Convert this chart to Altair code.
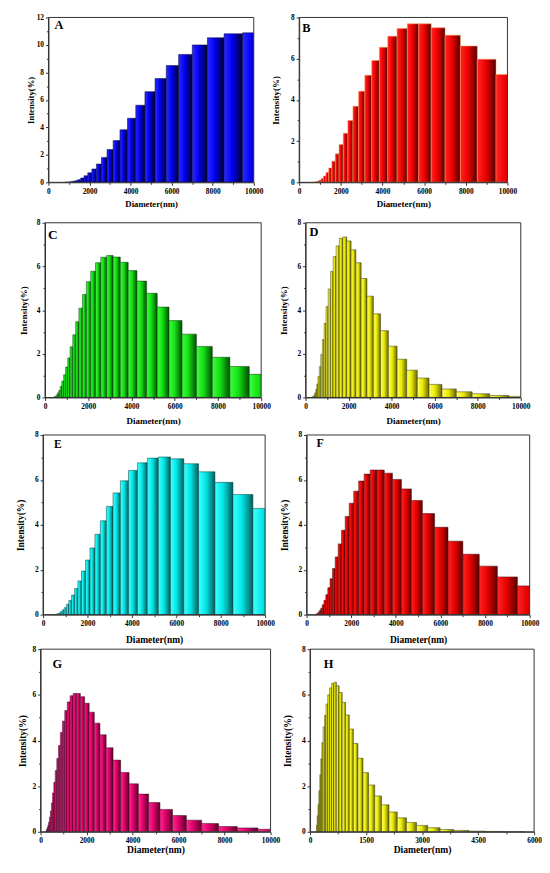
import altair as alt
import pandas as pd

# Log-spaced size classes (bin edges, nm)
EDGES = [106, 117, 129, 143, 158, 174, 192, 213, 235, 260, 287, 317, 350, 387,
         428, 473, 522, 577, 638, 705, 779, 861, 951, 1051, 1161, 1283, 1418,
         1567, 1731, 1913, 2114, 2336, 2581, 2852, 3151, 3482, 3848, 4252, 4698,
         5191, 5737, 6339, 7004, 7740, 8552, 9450, 10442]

# intensity values (%), ascending bins starting at index START_x of EDGES
START_A = 20
VALS_A = [0.005, 0.01, 0.02, 0.04, 0.07, 0.12, 0.19, 0.31, 0.48, 0.69, 0.97, 1.33, 1.81,
          2.38, 3.04, 3.82, 4.66, 5.61, 6.60, 7.55, 8.50, 9.31, 10.0, 10.52, 10.81, 10.88]
START_B = 18
VALS_B = [0.005, 0.015, 0.03, 0.06, 0.11, 0.19, 0.31, 0.47, 0.70, 1.02, 1.38, 1.83, 2.38,
          3.0, 3.69, 4.42, 5.19, 5.91, 6.55, 7.09, 7.47, 7.69, 7.69, 7.5, 7.14, 6.61, 5.97, 5.23]
START_C = 13
VALS_C = [0.01, 0.03, 0.06, 0.12, 0.21, 0.33, 0.51, 0.75, 1.04, 1.39, 1.81, 2.32, 2.87,
          3.47, 4.09, 4.72, 5.30, 5.78, 6.17, 6.42, 6.50, 6.43, 6.19, 5.81, 5.33, 4.77,
          4.14, 3.52, 2.90, 2.34, 1.84, 1.42, 1.06]
START_D = 10
VALS_D = [0.01, 0.03, 0.06, 0.12, 0.21, 0.38, 0.62, 0.96, 1.42, 1.97, 2.65, 3.39, 4.16,
          4.97, 5.77, 6.45, 6.94, 7.29, 7.35, 7.17, 6.76, 6.17, 5.45, 4.64, 3.83, 3.06,
          2.35, 1.75, 1.25, 0.89, 0.6, 0.39, 0.26, 0.17, 0.09, 0.05]
START_E = 16
VALS_E = [0.01, 0.02, 0.04, 0.07, 0.13, 0.21, 0.31, 0.46, 0.63, 0.87, 1.16, 1.50, 1.94,
          2.43, 2.97, 3.58, 4.18, 4.82, 5.42, 5.96, 6.42, 6.76, 6.97, 7.02, 6.94, 6.72,
          6.36, 5.89, 5.35, 4.73]
START_F = 13
VALS_F = [0.01, 0.03, 0.06, 0.12, 0.19, 0.29, 0.44, 0.64, 0.89, 1.20, 1.60, 2.05, 2.57,
          3.15, 3.76, 4.37, 4.96, 5.50, 5.95, 6.26, 6.44, 6.44, 6.30, 6.02, 5.60, 5.08,
          4.50, 3.89, 3.27, 2.69, 2.16, 1.68, 1.28]
START_G = 8
VALS_G = [0.05, 0.10, 0.19, 0.29, 0.43, 0.64, 0.91, 1.27, 1.70, 2.17, 2.68, 3.21, 3.78,
          4.35, 4.85, 5.31, 5.69, 5.96, 6.06, 6.06, 5.92, 5.63, 5.24, 4.76, 4.25, 3.68,
          3.14, 2.60, 2.10, 1.65, 1.28, 0.98, 0.71, 0.51, 0.36, 0.23, 0.17, 0.11]
START_H = 5
VALS_H = [0.3, 0.7, 1.2, 1.8, 2.5, 3.2, 3.9, 4.6, 5.1, 5.6, 6.0, 6.3, 6.5, 6.55, 6.4, 6.1,
          5.67, 5.12, 4.5, 3.87, 3.22, 2.59, 2.05, 1.57, 1.18, 0.87, 0.61, 0.41, 0.28,
          0.18, 0.1, 0.06, 0.03, 0.015, 0.005]

X_TICKS_10K = [0, 1000, 2000, 3000, 4000, 5000, 6000, 7000, 8000, 9000, 10000]
X_TICKS_6K = [0, 750, 1500, 2250, 3000, 3750, 4500, 5250, 6000]
Y_TICKS_8 = [0, 1, 2, 3, 4, 5, 6, 7, 8]
Y_TICKS_12 = [0, 1, 2, 3, 4, 5, 6, 7, 8, 9, 10, 11, 12]

FONT = "Liberation Serif"
AX = "#333333"


def grad(c0, c1, c2):
    return {"gradient": "linear", "x1": 0, "x2": 1, "y1": 0, "y2": 0,
            "stops": [{"offset": 0, "color": c0}, {"offset": 0.45, "color": c1},
                      {"offset": 1, "color": c2}]}


def panel(letter, start, vals, w, h, xmax, xticks, xmajor, ymax, yticks,
          fill, stroke, ytp, xtp, tfs, lx, ly, lfs, cell):
    # cell = (left, right, top, bottom) extents of the panel's cell around the plot
    L, R, T, B = cell
    n = len(vals)
    df = pd.DataFrame({"d0": EDGES[start:start + n],
                       "d1": EDGES[start + 1:start + 1 + n],
                       "v": vals})
    xaxis = alt.Axis(values=xticks, format="d",
                     labelExpr=f"datum.value % {xmajor} === 0 ? datum.label : ''",
                     tickSize={"condition": {"test": f"datum.value % {xmajor} === 0", "value": 3},
                               "value": 2},
                     title="Diameter(nm)", titlePadding=xtp, titleFontSize=tfs,
                     labelFlush=False, labelOverlap=False, grid=False)
    yaxis = alt.Axis(values=yticks, format="d",
                     labelExpr="datum.value % 2 === 0 ? datum.label : ''",
                     tickSize={"condition": {"test": "datum.value % 2 === 0", "value": 3},
                               "value": 2},
                     title="Intensity(%)", titlePadding=ytp, titleFontSize=tfs,
                     labelOverlap=False, grid=False)
    bars = alt.Chart(df).mark_rect(fill=fill, stroke=stroke, strokeWidth=0.5, clip=True).encode(
        x=alt.X("d0:Q", scale=alt.Scale(domain=[0, xmax], nice=False), axis=xaxis),
        x2="d1:Q",
        y=alt.Y("v:Q", scale=alt.Scale(domain=[0, ymax], nice=False), axis=yaxis),
        y2=alt.datum(0),
    )
    frame = alt.Chart(pd.DataFrame({"f": [0]})).mark_rect(
        fillOpacity=0, stroke=AX, strokeWidth=1
    ).encode(x=alt.value(0), x2=alt.value(w), y=alt.value(0), y2=alt.value(h))
    spacer = alt.Chart(pd.DataFrame({"f": [0]})).mark_rect(opacity=0).encode(
        x=alt.value(-L), x2=alt.value(w + R), y=alt.value(-T), y2=alt.value(B))
    lab = alt.Chart(pd.DataFrame({"t": [letter]})).mark_text(
        align="left", baseline="alphabetic", font=FONT, fontWeight="bold",
        fontSize=lfs, color="black"
    ).encode(text="t:N", x=alt.value(lx), y=alt.value(ly))
    return alt.layer(spacer, bars, frame, lab).properties(width=w, height=h)


# every row is 533 px wide; plot tops at 12, 220, 435, 651 (page coordinates)
pA = panel("A", START_A, VALS_A, 208, 167, 10000, X_TICKS_10K, 2000, 12, Y_TICKS_12,
           grad("#2a2aff", "#0000ee", "#000028"), "#000030", 0.7, 5.1, 8.8, 6, 11.3, 12.5,
           (41, 12, 4, 201))
pB = panel("B", START_B, VALS_B, 211, 167, 10000, X_TICKS_10K, 2000, 8, Y_TICKS_8,
           grad("#ff2424", "#ee0000", "#500000"), "#ff9a50", 10.0, 5.0, 9.1, 3, 14.6, 12.5,
           (34, 27, 4, 201))
pC = panel("C", START_C, VALS_C, 219, 177, 10000, X_TICKS_10K, 2000, 8, Y_TICKS_8,
           grad("#3cff3c", "#14dd14", "#005000"), "#003800", 7.7, 6.6, 9.1, 3, 16.0, 13.5,
           (34, 12, 7, 210))
pD = panel("D", START_D, VALS_D, 218, 177, 10000, X_TICKS_10K, 2000, 8, Y_TICKS_8,
           grad("#ffff70", "#eaea00", "#666600"), "#3a3a00", 8.1, 6.6, 9.1, 4, 13.3, 12.5,
           (33, 17, 7, 210))
pE = panel("E", START_E, VALS_E, 225, 182, 10000, X_TICKS_10K, 2000, 8, Y_TICKS_8,
           grad("#44ffff", "#00e6e6", "#005c5c"), "#003c3c", 9.1, 8.0, 9.6, 11, 13.3, 11.6,
           (30, 12, 5, 212))
pF = panel("F", START_F, VALS_F, 226, 182, 10000, X_TICKS_10K, 2000, 8, Y_TICKS_8,
           grad("#ff2424", "#e60000", "#5a0000"), "#400000", 8.8, 8.0, 9.6, 10, 12.3, 12.0,
           (30, 10, 5, 212))
pG = panel("G", START_G, VALS_G, 233, 185, 10000, X_TICKS_10K, 2000, 8, Y_TICKS_8,
           grad("#ff2a92", "#dd0068", "#5a002a"), "#40001e", 5.0, 0.0, 9.7, 12, 19.0, 12.5,
           (25, 10, 4, 207))
pH = panel("H", START_H, VALS_H, 227, 185, 6000, X_TICKS_6K, 1500, 8, Y_TICKS_8,
           grad("#ffff70", "#eaea00", "#666600"), "#3a3a00", 9.1, 0.0, 9.7, 14, 19.0, 12.5,
           (30, 8, 4, 207))

row1 = alt.hconcat(pA, pB, spacing=0)
row2 = alt.hconcat(pC, pD, spacing=0)
row3 = alt.hconcat(pE, pF, spacing=0)
row4 = alt.hconcat(pG, pH, spacing=0)

chart = alt.vconcat(row1, row2, row3, row4, spacing=0, center=True).properties(
    padding={"left": 0, "top": 0, "right": 0, "bottom": 0}, background="white"
).configure_view(
    stroke=None
).configure_axis(
    labelFont=FONT, labelFontWeight="bold", labelFontSize=7.5, labelColor="black",
    labelPadding=2, titleFont=FONT, titleFontWeight="bold", titleColor="black",
    domainColor=AX, domainWidth=1, tickColor=AX, tickWidth=1
)

chart.save("out.html", embed_options={"renderer": "svg", "actions": False})
